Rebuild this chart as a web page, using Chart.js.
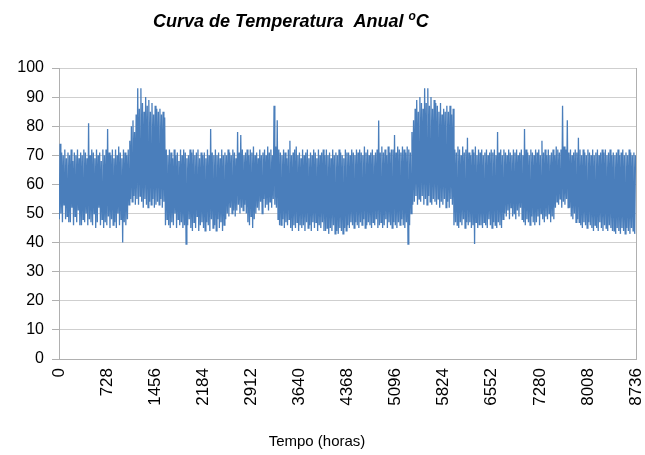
<!DOCTYPE html>
<html><head><meta charset="utf-8">
<script src="https://cdn.jsdelivr.net/npm/chart.js@4/dist/chart.umd.min.js"></script>
<style>html,body{margin:0;padding:0;background:#fff}#wrap{width:645px;height:455px;position:relative}</style>
</head><body><div id="wrap"><canvas id="c" width="645" height="455"></canvas></div>
<script>
const chartTitle = "Curva de Temperatura  Anual ";
const titleSup = "o";
const titleUnit = "C";
const xAxisTitle = "Tempo (horas)";
const xTickValues = [0,728,1456,2184,2912,3640,4368,5096,5824,6552,7280,8008,8736];
const yTickMax = 100;
const hoursPerDay = 24;

// daily maximum temperature (ºC), read week by week from the picture
const dailyHigh = [
74,71,70,72,69,71,70, 72,68,71,70,72,69,71, 70,72,71,69,81,70,72, 71,69,72,70,71,68,72,
70,72,79,71,70,72,69, 72,70,73,71,69,72,71, 70,72,75,80,82,78,84, 93,86,93,88,85,90,87,
89,85,88,84,87,86,85, 86,84,85,83,72,70,72, 71,69,72,70,71,68,72, 70,72,71,69,70,72,71,
72,70,71,72,69,71,70, 71,69,72,70,79,71,70, 72,70,71,69,72,70,71, 70,72,71,70,72,71,69,
78,71,77,72,70,71,72, 70,72,71,73,70,71,69, 72,70,71,72,70,73,71, 72,70,87,73,82,72,71,
70,72,71,69,72,75,70, 71,72,73,70,71,69,72, 70,71,72,69,71,70,72, 71,69,72,70,71,72,70,
72,70,71,69,72,70,71, 70,72,71,70,69,72,71, 71,70,72,71,70,72,71, 72,71,70,73,71,72,70,
71,72,70,71,72,82,71, 73,71,72,70,73,71,72, 72,77,71,73,72,71,73, 72,71,73,72,71,78,82,
86,89,85,90,88,86,93, 88,93,87,90,86,89,88, 87,85,88,84,86,85,87, 85,87,84,86,72,71,73,
72,70,73,71,72,76,71, 70,72,71,73,70,72,71, 72,70,71,72,70,71,72, 71,72,70,78,71,72,70,
72,71,70,72,71,70,72, 71,72,70,71,72,70,79, 72,71,70,72,71,70,72, 71,72,70,75,71,72,70,
72,70,71,72,70,73,72, 71,72,87,73,72,82,71, 72,70,71,72,71,76,72, 70,72,71,70,72,71,70,
72,70,71,72,70,71,72, 71,72,70,71,72,70,71, 70,71,72,70,71,72,70, 71,70,72,71,70,71,70
];
// daily minimum temperature (ºC)
const dailyLow = [
48,50,47,53,48,49,47, 47,52,46,49,47,51,46, 46,48,47,50,46,48,47, 46,50,45,47,52,46,48,
45,47,46,49,45,48,46, 47,45,50,46,48,40,47, 46,48,53,55,54,56,53, 55,53,56,54,52,55,53,
52,54,53,55,52,53,54, 53,55,52,54,46,48,46, 45,47,46,50,45,48,46, 47,45,46,39.5,46,48,45,
44,47,45,49,44,46,47, 45,44,47,46,44,48,45, 46,44,48,45,47,44,46, 48,50,49,52,50,51,49,
51,53,50,52,51,53,50, 47,46,49,45,48,50,52, 51,54,50,55,52,53,51, 54,52,55,53,52,48,46,
46,48,45,47,46,48,45, 44,46,45,47,44,46,45, 46,44,47,45,46,44,47, 45,47,44,46,45,47,44,
44,45,43,45,44,46,43, 44,43,45,44,43,45,44, 46,45,47,46,45,47,46, 45,47,46,48,45,46,47,
46,45,47,46,48,45,46, 47,45,46,48,45,47,46, 45,47,46,45,47,46,48, 46,45,47,39.5,46,50,53,
54,56,53,55,54,56,53, 55,53,56,54,53,55,54, 53,55,52,54,53,55,52, 54,52,55,53,46,47,46,
45,47,46,48,45,47,46, 47,45,46,39.5,47,45,46, 46,45,47,46,45,48,46, 45,47,46,45,47,46,45,
48,50,49,51,48,52,49, 50,48,51,49,52,48,47, 46,48,47,46,49,47,46, 47,49,46,50,48,47,49,
48,50,47,49,48,52,54, 53,55,52,54,53,55,52, 52,49,48,50,47,48,47, 46,45,47,46,45,47,46,
45,44,46,45,44,47,45, 44,46,45,44,46,45,44, 44,43,45,44,43,45,44, 43,45,44,43,45,44,43
];

const points = [];
for (let d = 0; d < dailyHigh.length; d++) {
  points.push({x: d * hoursPerDay + 4, y: dailyLow[d]});
  points.push({x: d * hoursPerDay + 16, y: dailyHigh[d]});
}

const FONT = "'Liberation Sans', Arial, sans-serif";

const titlePlugin = {
  id: 'customTitles',
  afterDraw(chart) {
    const ctx = chart.ctx;
    ctx.save();
    ctx.fillStyle = '#000';
    ctx.textBaseline = 'alphabetic';
    ctx.textAlign = 'left';
    ctx.font = "italic bold 18px " + FONT;
    let x = 153, y = 27;
    ctx.fillText(chartTitle, x, y);
    x += ctx.measureText(chartTitle).width;
    ctx.font = "italic bold 12px " + FONT;
    ctx.fillText(titleSup, x, y - 7);
    x += ctx.measureText(titleSup).width;
    ctx.font = "italic bold 18px " + FONT;
    ctx.fillText(titleUnit, x, y);
    ctx.font = "15px " + FONT;
    ctx.textAlign = 'center';
    ctx.fillText(xAxisTitle, 317, 446);
    ctx.restore();
  }
};

new Chart(document.getElementById('c'), {
  type: 'line',
  data: {
    datasets: [{
      label: 'Temperatura',
      data: points,
      borderColor: '#4A7EBB',
      borderWidth: 1.3,
      pointRadius: 0,
      tension: 0,
      fill: false
    }]
  },
  options: {
    responsive: false,
    devicePixelRatio: 1,
    animation: false,
    parsing: false,
    layout: { autoPadding: false, padding: { top: 68, right: 9, left: 0, bottom: 0 } },
    plugins: { legend: { display: false }, tooltip: { enabled: false }, title: { display: false } },
    scales: {
      x: {
        type: 'linear',
        min: 0,
        max: 8736,
        afterBuildTicks: (s) => { s.ticks = xTickValues.map(v => ({value: v})); },
        afterFit: (s) => { s.height = 96; s.paddingLeft = 0; s.paddingRight = 0; },
        ticks: {
          minRotation: 90, maxRotation: 90, autoSkip: false,
          color: '#000', padding: 9,
          font: { family: FONT, size: 17 },
          callback: (v) => String(v)
        },
        grid: {
          drawTicks: false,
          color: (c) => (c.tick && c.tick.value === 8736) ? '#b0b0b0' : 'rgba(0,0,0,0)'
        },
        border: { color: '#b0b0b0', width: 1 }
      },
      y: {
        min: 0,
        max: yTickMax,
        afterFit: (s) => { s.width = 59; s.paddingTop = 0; s.paddingBottom = 0; },
        ticks: { stepSize: 10, color: '#000', padding: 8, font: { family: FONT, size: 16 } },
        grid: { color: '#cfcfcf', tickLength: 7, tickColor: '#b0b0b0' },
        border: { color: '#b0b0b0', width: 1 }
      }
    }
  },
  plugins: [titlePlugin]
});
</script>
</body></html>
